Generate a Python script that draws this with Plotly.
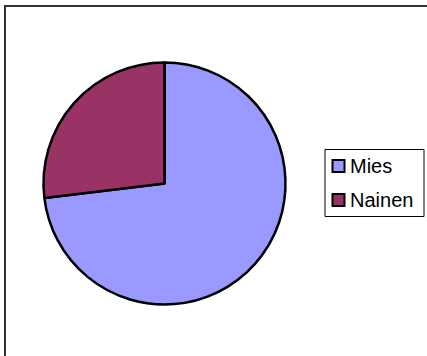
import plotly.graph_objects as go

labels = ["Mies", "Nainen"]
values = [73.1, 26.9]
colors = ["#9999FF", "#993366"]

W, H = 427, 356

def px(x):
    return x / W

def py(y):
    return 1 - y / H

fig = go.Figure(go.Pie(
    labels=labels,
    values=values,
    sort=False,
    direction="clockwise",
    rotation=0,
    marker=dict(colors=colors, line=dict(color="black", width=2.5)),
    textinfo="none",
    hoverinfo="label+percent",
    domain=dict(x=[px(43.5), px(285.5)], y=[py(304.5), py(62.5)]),
    showlegend=False,
))

# outer chart frame
fig.add_shape(type="rect", xref="paper", yref="paper",
              x0=px(5), x1=px(429), y0=py(358), y1=py(6),
              line=dict(color="#333333", width=2), fillcolor="rgba(0,0,0,0)")

# legend box
fig.add_shape(type="rect", xref="paper", yref="paper",
              x0=px(325), x1=px(424), y0=py(216.5), y1=py(149.5),
              line=dict(color="black", width=1), fillcolor="white")

legend_rows_y = [166, 200]
for lab, col, yc in zip(labels, colors, legend_rows_y):
    fig.add_shape(type="rect", xref="paper", yref="paper",
                  x0=px(332.5), x1=px(344.5), y0=py(yc + 6), y1=py(yc - 6),
                  line=dict(color="black", width=2), fillcolor=col)
    fig.add_annotation(x=px(348), y=py(yc), xref="paper", yref="paper",
                       text=lab, showarrow=False, xanchor="left", yanchor="middle",
                       font=dict(family="Liberation Sans, Arial, sans-serif", size=20, color="black"))

fig.update_layout(
    width=W, height=H,
    margin=dict(l=0, r=0, t=0, b=0),
    paper_bgcolor="white",
    plot_bgcolor="white",
    font=dict(family="Liberation Sans, Arial, sans-serif", size=18, color="black"),
    showlegend=False,
)

fig.write_html("out.html",
               config={"displayModeBar": False},
               post_script="document.body.style.margin='0';document.body.style.padding='0';")
